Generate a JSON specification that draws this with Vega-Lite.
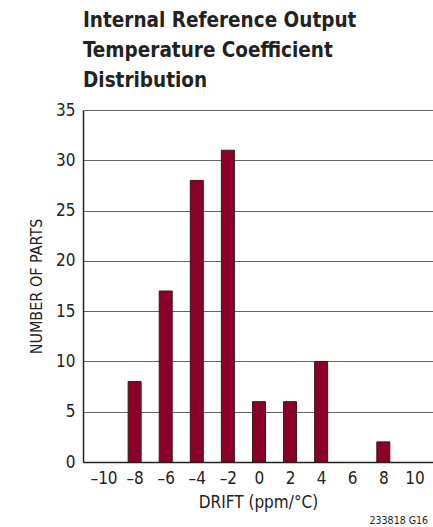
{
  "$schema": "https://vega.github.io/schema/vega-lite/v6.json",
  "width": 350,
  "height": 352,
  "autosize": {"type": "none"},
  "padding": {"left": 83, "top": 110, "right": 0, "bottom": 65},
  "background": "white",
  "config": {
    "font": "DejaVu Sans Condensed, Liberation Sans Narrow, sans-serif",
    "view": {"stroke": null},
    "axis": {"labelOverlap": false}
  },
  "title": {
    "text": ["Internal Reference Output", "Temperature Coefficient", "Distribution"],
    "anchor": "start",
    "frame": "group",
    "fontSize": 20.5,
    "fontWeight": "bold",
    "lineHeight": 30,
    "color": "#222222",
    "offset": 10,
    "font": "DejaVu Sans Condensed, Liberation Sans Narrow, sans-serif"
  },
  "data": {
    "values": [
      {"drift": -8, "parts": 8},
      {"drift": -6, "parts": 17},
      {"drift": -4, "parts": 28},
      {"drift": -2, "parts": 31},
      {"drift": 0, "parts": 6},
      {"drift": 2, "parts": 6},
      {"drift": 4, "parts": 10},
      {"drift": 8, "parts": 2}
    ]
  },
  "resolve": {"axis": {"x": "independent", "y": "independent"}},
  "layer": [
    {
      "mark": {"type": "bar", "width": 13, "fill": "#8a0028", "stroke": "#3b1818", "strokeWidth": 1},
      "encoding": {
        "x": {
          "field": "drift", "type": "quantitative",
          "scale": {"domain": [-11, 10.875], "nice": false, "zero": false},
          "axis": {
            "title": "DRIFT (ppm/°C)",
            "values": [-10, -8, -6, -4, -2, 0, 2, 4, 6, 8, 10],
            "labelExpr": "replace(replace(datum.label, '−', '–'), '-', '–')",
            "labelOverlap": false,
            "labelFlush": false,
            "grid": false, "ticks": false,
            "domainColor": "#222222", "domainWidth": 1.5,
            "labelFontSize": 17, "labelColor": "#222222", "labelPadding": 8,
            "titleFontSize": 17, "titleFontWeight": "normal", "titleColor": "#222222", "titlePadding": 8
          }
        },
        "y": {
          "field": "parts", "type": "quantitative",
          "scale": {"domain": [0, 35], "nice": false},
          "axis": {
            "title": "NUMBER OF PARTS",
            "values": [0, 5, 10, 15, 20, 25, 30, 35],
            "labelOverlap": false,
            "grid": true, "gridColor": "#666666", "gridWidth": 1,
            "ticks": false,
            "domainColor": "#222222", "domainWidth": 1.5,
            "labelFontSize": 17, "labelColor": "#222222", "labelPadding": 8,
            "titleFontSize": 16, "titleFontWeight": "normal", "titleColor": "#222222", "titlePadding": 11
          }
        }
      }
    },
    {
      "data": {"values": [{"note": "233818 G16", "x": 10.875, "y": -5.9}]},
      "mark": {"type": "text", "align": "right", "baseline": "middle", "fontSize": 10.5, "color": "#222222", "clip": false},
      "encoding": {
        "text": {"field": "note"},
        "x": {"field": "x", "type": "quantitative", "axis": null},
        "y": {"field": "y", "type": "quantitative", "axis": null}
      }
    }
  ]
}
